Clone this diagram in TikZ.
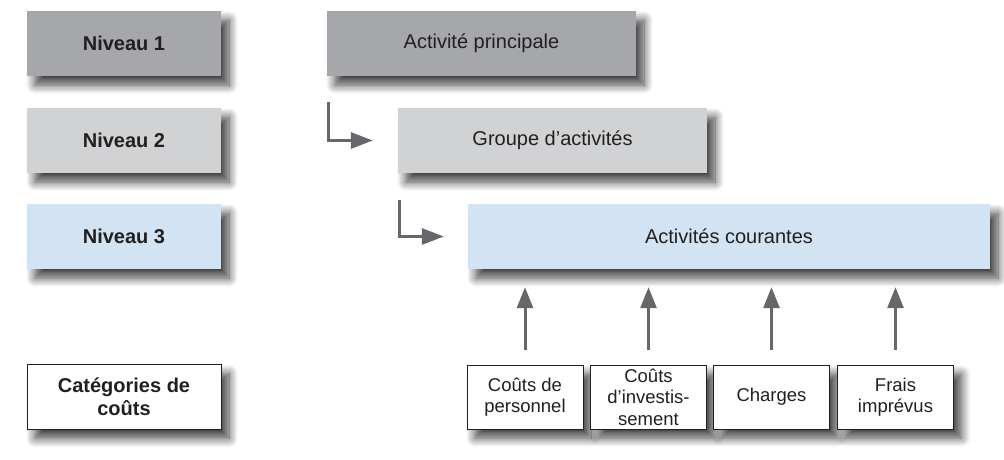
\documentclass[tikz,border=0pt]{standalone}
\usepackage{fontspec}
\setmainfont{Liberation Sans}
\usetikzlibrary{positioning}
\usetikzlibrary{arrows.meta}
\usetikzlibrary{shadows.blur}

\definecolor{nivone}{RGB}{166,167,171}
\definecolor{nivtwo}{RGB}{209,210,212}
\definecolor{nivthree}{RGB}{210,227,243}
\definecolor{arrgray}{RGB}{102,102,107}
\definecolor{txtdark}{RGB}{35,31,32}

\begin{document}
\begin{tikzpicture}[x=1pt,y=1pt,
    box/.style={inner sep=0pt, align=center, text=txtdark,
        font=\fontsize{20}{22}\selectfont,
        blur shadow={shadow xshift=8pt, shadow yshift=-9pt,
            shadow blur radius=9pt, shadow blur steps=12, shadow opacity=75}},
    levelbox/.style={box, minimum width=194pt, minimum height=65pt, font=\fontsize{20}{23}\selectfont\bfseries},
    costbox/.style={box, draw=txtdark, line width=1pt, fill=white, minimum width=116pt, minimum height=64pt,
        font=\fontsize{18.5}{21.5}\selectfont},
    uparrow/.style={arrgray, line width=3pt, -{Triangle[length=21pt, width=16pt]}},
    elbow/.style={arrgray, line width=3pt, -{Triangle[length=22pt, width=16pt]}}]
    \useasboundingbox (0,0) rectangle (1004,-459);

    % levels on the left
    \node[levelbox, fill=nivone]   (niv1) at (124,-43.5)  {Niveau 1};
    \node[levelbox, fill=nivtwo]   (niv2) at (124,-140.5) {Niveau 2};
    \node[levelbox, fill=nivthree] (niv3) at (124,-236.5) {Niveau 3};
    \node[levelbox, fill=white, draw=txtdark, line width=1pt] (cat) at (124,-397) {Catégories de\\coûts};

    % activity hierarchy
    \node[box, fill=nivone, minimum width=309pt, minimum height=65pt] (princ) at (481.5,-43.5) {Activité principale};
    \node[box, fill=nivtwo, minimum width=309pt, minimum height=65pt] (groupe) at (552.5,-140.5) {Groupe d’activités};
    \node[box, fill=nivthree, minimum width=522pt, minimum height=65pt] (cour) at (729,-236.5) {Activités courantes};

    % cost categories
    \node[costbox] (pers)  at (525,-397)   {Coûts de\\personnel};
    \node[costbox] (inv)   at (648.5,-397) {Coûts\\d’investis-\\sement};
    \node[costbox] (charg) at (771.5,-397) {Charges};
    \node[costbox] (frais) at (895.5,-397) {Frais\\imprévus};

    \draw[elbow] ([xshift=2pt,yshift=-26pt]princ.south west) |- ([xshift=-25pt]groupe.west);
    \draw[elbow] ([xshift=2pt,yshift=-27pt]groupe.south west) |- ([xshift=-24pt]cour.west);

    \foreach \c in {pers,inv,charg,frais}
        \draw[uparrow] ([yshift=15pt]\c.north) -- ([yshift=-18pt]\c.north |- cour.south);
\end{tikzpicture}
\end{document}
